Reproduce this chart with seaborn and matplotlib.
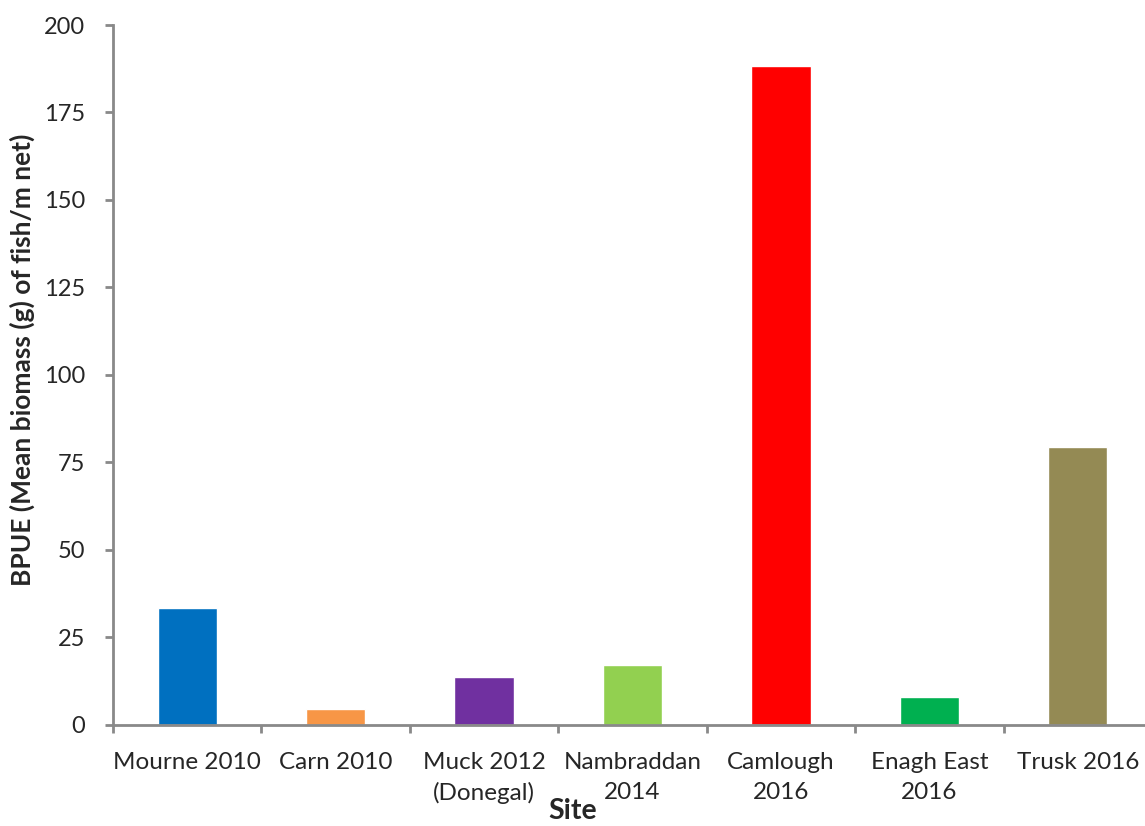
import matplotlib
matplotlib.use("Agg")
import matplotlib.pyplot as plt
import seaborn as sns
import pandas as pd

# Site labels and mean biomass per unit effort
sites = ["Mourne 2010", "Carn 2010", "Muck 2012\n(Donegal)", "Nambraddan\n2014",
         "Camlough\n2016", "Enagh East\n2016", "Trusk 2016"]
bpue = [33.3, 4.4, 13.6, 17.0, 188.2, 7.8, 79.2]
bar_colors = ["#0070C0", "#F79646", "#7030A0", "#92D050", "#FF0000", "#00B050", "#948A54"]
y_ticks = [0, 25, 50, 75, 100, 125, 150, 175, 200]

sns.set_theme(style="white")
plt.rcParams["font.family"] = ["Lato", "DejaVu Sans"]

df = pd.DataFrame({"site": sites, "bpue": bpue})

fig = plt.figure(figsize=(11.45, 8.26), dpi=100)
ax = fig.add_axes([113 / 1145, 1 - 724.5 / 826, (1152 - 113) / 1145, (724.5 - 25) / 826])

sns.barplot(data=df, x="site", y="bpue", hue="site", palette=bar_colors,
            width=0.40, saturation=1, legend=False, ax=ax)

axis_grey = "#898989"
label_size = 17.5
ax.set_ylim(0, 200)
ax.set_yticks(y_ticks)
ax.set_xlim(-0.5, len(sites) - 0.5)

# tick marks sit on the category boundaries, names centred under each bar
ax.set_xticks([i - 0.5 for i in range(len(sites) + 1)])
ax.set_xticklabels([])
first_lines = [s.split("\n")[0] for s in sites]
ax.set_xticks(range(len(sites)), minor=True)
ax.set_xticklabels(first_lines, minor=True, fontsize=label_size)
for i, s in enumerate(sites):
    parts = s.split("\n")
    if len(parts) > 1:
        ax.annotate(parts[1], xy=(i, 0), xycoords=("data", "axes fraction"),
                    xytext=(0, -49), textcoords="offset points",
                    ha="center", va="center", fontsize=label_size,
                    annotation_clip=False)

for side in ["top", "right"]:
    ax.spines[side].set_visible(False)
for side in ["left", "bottom"]:
    ax.spines[side].set_color(axis_grey)
    ax.spines[side].set_linewidth(2)

ax.tick_params(axis="y", which="major", direction="out", length=6, width=2,
               color=axis_grey, labelsize=17, pad=14, left=True)
ax.tick_params(axis="x", which="major", direction="out", length=6, width=2,
               color=axis_grey, bottom=True)
ax.tick_params(axis="x", which="minor", length=0, pad=20, bottom=True)

ax.set_xlabel("")
ax.set_ylabel("")
fig.text(22 / 1145, 1 - 360 / 826, "BPUE (Mean biomass (g) of fish/m net)",
         rotation=90, ha="center", va="center", fontsize=19, fontweight="bold")
fig.text(573 / 1145, 2 / 826, "Site", ha="center", va="bottom",
         fontsize=20.5, fontweight="bold")

fig.savefig("out.png", dpi=100)
